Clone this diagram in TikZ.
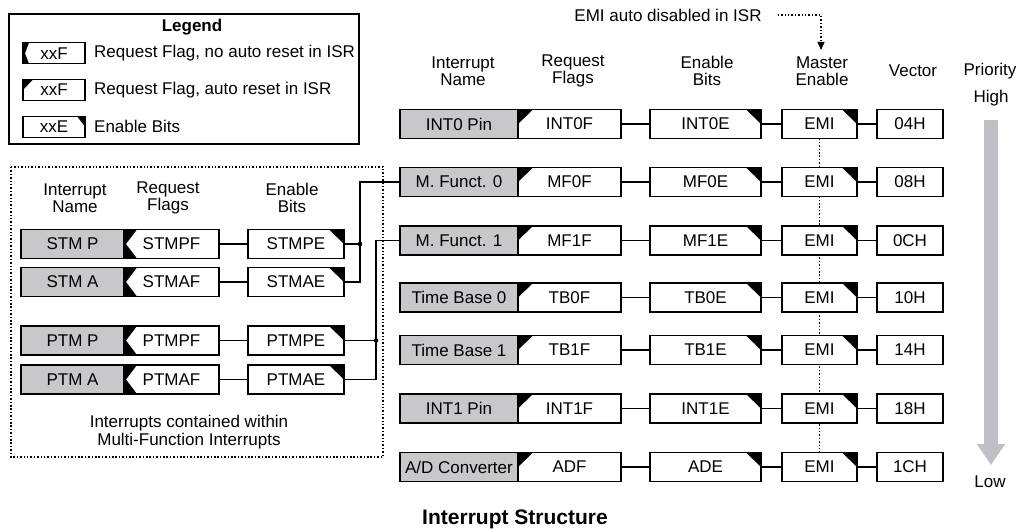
\documentclass[tikz,border=0pt]{standalone}
\usepackage{fontspec}
\setmainfont{Liberation Sans}
\usetikzlibrary{arrows.meta,positioning,backgrounds}
\definecolor{namegray}{RGB}{200,200,202}
\definecolor{prigray}{RGB}{192,192,196}
\tikzset{
  box/.style={
    draw,
    line width=1.2pt,
    inner sep=0pt,
    outer sep=0pt,
    minimum height=29pt,
    fill=white
  },
  namebox/.style={box, fill=namegray, minimum width=118pt},
  lnamebox/.style={box, fill=namegray, minimum width=103pt},
  autoflag/.style={
    box,
    minimum width=103pt,
    path picture={\fill[black] (path picture bounding box.north west)
      -- ([xshift=#1]path picture bounding box.north west)
      -- (path picture bounding box.west) -- cycle;}
  },
  autoflag/.default=15pt,
  holdflag/.style={
    box,
    minimum width=95pt,
    path picture={\fill[black] (path picture bounding box.north west)
      -- ([xshift=#1]path picture bounding box.north west)
      -- ([xshift=2pt]path picture bounding box.west)
      -- ([xshift=#1]path picture bounding box.south west)
      -- (path picture bounding box.south west) -- cycle;}
  },
  holdflag/.default=13pt,
  enbit/.style={
    box,
    minimum width=111pt,
    path picture={\fill[black] (path picture bounding box.north east)
      -- ([xshift=-#1]path picture bounding box.north east)
      -- (path picture bounding box.east) -- cycle;}
  },
  enbit/.default=15pt,
  emibox/.style={enbit, minimum width=75pt},
  vecbox/.style={box, minimum width=66pt},
  legendbox/.style={minimum width=62pt, minimum height=21pt},
  head/.style={align=center, inner sep=0pt},
  wire/.style={line width=1.2pt},
  dotline/.style={line width=1.2pt, dash pattern=on 1.5pt off 1.9pt},
  junction/.style={circle, fill, inner sep=0pt, minimum size=4.6pt}
}

\begin{document}
\begin{tikzpicture}[x=1pt, y=-1pt, font=\fontsize{17pt}{17.5pt}\selectfont]
  \useasboundingbox (0,0) rectangle (1019,529);

  % legend
  \draw[line width=1.2pt] (9,14) rectangle (359,144);
  \node[head, font=\fontsize{17pt}{17.5pt}\selectfont\bfseries] (legend) at (192,27) {Legend};
  \node[holdflag=6pt, legendbox, anchor=west] (lgf1) at (23,53.3) {xxF};
  \node[head, right=9pt of lgf1] (lgt1) {Request Flag, no auto reset in ISR};
  \node[autoflag=10pt, legendbox, anchor=west] (lgf2) at (23,90) {xxF};
  \node[head, right=9pt of lgf2] (lgt2) {Request Flag, auto reset in ISR};
  \node[enbit=8pt, legendbox, anchor=west] (lge) at (23,126.7) {xxE};
  \node[head, right=9pt of lge] (lgt3) {Enable Bits};

  % multi-function sources
  \draw[dotline] (11,167) rectangle (383,457);
  \node[head] (lhname) at (75,198) {Interrupt\\Name};
  \node[head] (lhflag) at (168,198) {Request\\Flags};
  \node[head] (lhen) at (292,198) {Enable\\Bits};
  \node[lnamebox, anchor=west] (ln1) at (21,244) {STM P};
  \node[holdflag, right=0pt of ln1] (lf1) {STMPF};
  \node[enbit, minimum width=96pt, right=29pt of lf1] (le1) {STMPE};
  \node[lnamebox, anchor=west] (ln2) at (21,282) {STM A};
  \node[holdflag, right=0pt of ln2] (lf2) {STMAF};
  \node[enbit, minimum width=96pt, right=29pt of lf2] (le2) {STMAE};
  \node[lnamebox, anchor=west] (ln3) at (21,340.5) {PTM P};
  \node[holdflag, right=0pt of ln3] (lf3) {PTMPF};
  \node[enbit, minimum width=96pt, right=29pt of lf3] (le3) {PTMPE};
  \node[lnamebox, anchor=west] (ln4) at (21,379.5) {PTM A};
  \node[holdflag, right=0pt of ln4] (lf4) {PTMAF};
  \node[enbit, minimum width=96pt, right=29pt of lf4] (le4) {PTMAE};
  \node[head] (lnote) at (189,432) {Interrupts contained within\\Multi-Function Interrupts};

  % headers
  \node[head] (hname) at (463,71) {Interrupt\\Name};
  \node[head] (hflag) at (573,71) {Request\\Flags};
  \node[head] (hen) at (707,71) {Enable\\Bits};
  \node[head] (hemi) at (822,71) {Master\\Enable};
  \node[head] (hvec) at (913,71) {Vector};
  \node[head] (hpri) at (990,71) {Priority};
  \node[head] (high) at (991,98) {High};
  \node[head] (low) at (990,482) {Low};
  \node[head] (isr) at (668,15) {EMI auto disabled in ISR};

  % interrupt rows
  \node[namebox, anchor=west] (n1) at (400,124) {INT0 Pin};
  \node[autoflag, right=0pt of n1] (f1) {INT0F};
  \node[enbit, right=29pt of f1] (e1) {INT0E};
  \node[emibox, right=21pt of e1] (m1) {EMI};
  \node[vecbox, right=20pt of m1] (v1) {04H};

  \node[namebox, anchor=west] (n2) at (400,182) {M. Funct. 0};
  \node[autoflag, right=0pt of n2] (f2) {MF0F};
  \node[enbit, right=29pt of f2] (e2) {MF0E};
  \node[emibox, right=21pt of e2] (m2) {EMI};
  \node[vecbox, right=20pt of m2] (v2) {08H};

  \node[namebox, anchor=west] (n3) at (400,240.5) {M. Funct. 1};
  \node[autoflag, right=0pt of n3] (f3) {MF1F};
  \node[enbit, right=29pt of f3] (e3) {MF1E};
  \node[emibox, right=21pt of e3] (m3) {EMI};
  \node[vecbox, right=20pt of m3] (v3) {0CH};

  \node[namebox, anchor=west] (n4) at (400,297.5) {Time Base 0};
  \node[autoflag, right=0pt of n4] (f4) {TB0F};
  \node[enbit, right=29pt of f4] (e4) {TB0E};
  \node[emibox, right=21pt of e4] (m4) {EMI};
  \node[vecbox, right=20pt of m4] (v4) {10H};

  \node[namebox, anchor=west] (n5) at (400,350) {Time Base 1};
  \node[autoflag, right=0pt of n5] (f5) {TB1F};
  \node[enbit, right=29pt of f5] (e5) {TB1E};
  \node[emibox, right=21pt of e5] (m5) {EMI};
  \node[vecbox, right=20pt of m5] (v5) {14H};

  \node[namebox, anchor=west] (n6) at (400,408.5) {INT1 Pin};
  \node[autoflag, right=0pt of n6] (f6) {INT1F};
  \node[enbit, right=29pt of f6] (e6) {INT1E};
  \node[emibox, right=21pt of e6] (m6) {EMI};
  \node[vecbox, right=20pt of m6] (v6) {18H};

  \node[namebox, anchor=west] (n7) at (400,467) {A/D Converter};
  \node[autoflag, right=0pt of n7] (f7) {ADF};
  \node[enbit, right=29pt of f7] (e7) {ADE};
  \node[emibox, right=21pt of e7] (m7) {EMI};
  \node[vecbox, right=20pt of m7] (v7) {1CH};

  \node[head, font=\fontsize{21pt}{24pt}\selectfont\bfseries] (title) at (515,519) {Interrupt Structure};

  % connections
  \draw[wire] (lf1) -- (le1) (lf2) -- (le2) (lf3) -- (le3) (lf4) -- (le4);
  \draw[wire] (f1) -- (e1) (e1) -- (m1) (m1) -- (v1);
  \draw[wire] (f2) -- (e2) (e2) -- (m2) (m2) -- (v2);
  \draw[wire] (f3) -- (e3) (e3) -- (m3) (m3) -- (v3);
  \draw[wire] (f4) -- (e4) (e4) -- (m4) (m4) -- (v4);
  \draw[wire] (f5) -- (e5) (e5) -- (m5) (m5) -- (v5);
  \draw[wire] (f6) -- (e6) (e6) -- (m6) (m6) -- (v6);
  \draw[wire] (f7) -- (e7) (e7) -- (m7) (m7) -- (v7);

  \coordinate (j0) at ([xshift=-40pt]n2.west);
  \coordinate (j1) at ([xshift=-24pt]n3.west);
  \draw[wire] (le2.east) -| (j0) -- (n2.west);
  \draw[wire] (le1.east) -- (le1.east -| j0) node[junction] (d0) {};
  \draw[wire] (le4.east) -| (j1) -- (n3.west);
  \draw[wire] (le3.east) -- (le3.east -| j1) node[junction] (d1) {};

  \coordinate (isrtip) at (821,50);
  \draw[dotline, -{Triangle[length=8pt,width=7pt]}] ([xshift=16pt]isr.east) -| (isrtip);
  \begin{scope}[on background layer]
    \draw[dotline] (m1) -- (m7);
  \end{scope}

  \coordinate (ptop) at (991,120);
  \coordinate (pbot) at (991,465);
  \draw[line width=14pt, prigray, -{Triangle[length=21pt,width=27pt]}] (ptop) -- (pbot);
\end{tikzpicture}
\end{document}
